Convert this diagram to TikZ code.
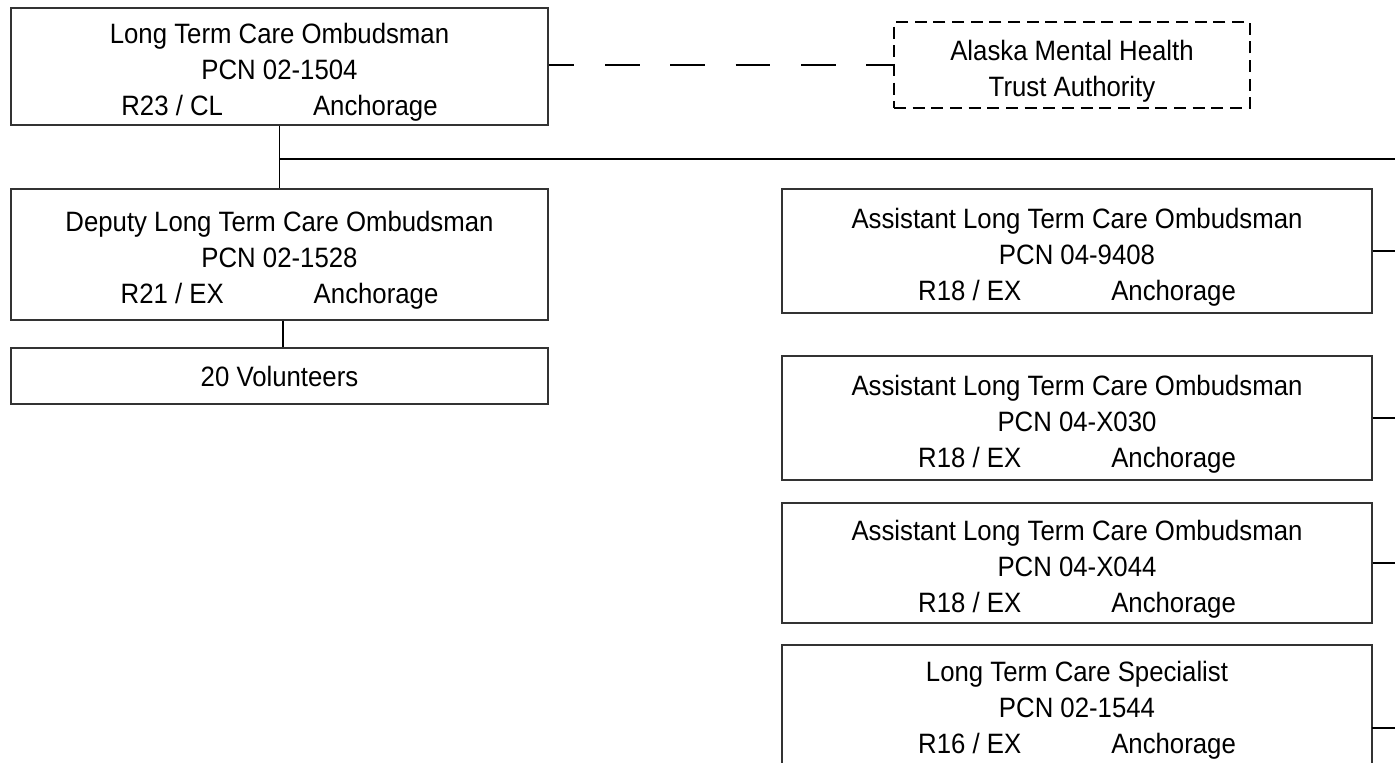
\documentclass[tikz,border=0pt]{standalone}
\usepackage{fontspec}
\setmainfont{Liberation Sans}[FakeStretch=0.92]

\tikzset{
  post/.style={draw=black!80,line width=1pt,inner sep=0pt,align=center,
    font=\fontsize{21}{27}\selectfont},
  link/.style={line width=1.1pt},
}
\newcommand{\grade}[1]{#1\hspace{67.5pt}Anchorage}
\newcommand{\lift}{\rule{0pt}{24.5pt}}

\begin{document}
\begin{tikzpicture}[x=0.75pt,y=-0.75pt]
    \useasboundingbox(0,0)rectangle(1395,763);
    \clip(0,0)rectangle(1395,763);
    % left column
    \node[post,minimum width=402.75pt,minimum height=87.75pt](lto)at(279.5,66.5){\lift Long Term Care Ombudsman\\PCN 02-1504\\\grade{R23 / CL}};
    \node[post,minimum width=402.75pt,minimum height=98.25pt](dep)at(279.5,254.5){\lift Deputy Long Term Care Ombudsman\\PCN 02-1528\\\grade{R21 / EX}};
    \node[post,minimum width=402.75pt,minimum height=42pt](vol)at(279.5,376){20 Volunteers};
    \node[post,dash pattern=on 9pt off 5pt,line width=1.5pt,draw=black,minimum width=267pt,minimum height=64.5pt](amh)at(1072,65){\lift Alaska Mental Health\\Trust Authority};
    % right column
    \node[post,minimum width=442.5pt,minimum height=93pt](a1)at(1077,251){\lift Assistant Long Term Care Ombudsman\\PCN 04-9408\\\grade{R18 / EX}};
    \node[post,minimum width=442.5pt,minimum height=93pt](a2)at(1077,418){\lift Assistant Long Term Care Ombudsman\\PCN 04-X030\\\grade{R18 / EX}};
    \node[post,minimum width=442.5pt,minimum height=90pt](a3)at(1077,563){\lift Assistant Long Term Care Ombudsman\\PCN 04-X044\\\grade{R18 / EX}};
    \node[post,minimum width=442.5pt,minimum height=97.5pt](lts)at(1077,710){Long Term Care Specialist\\PCN 02-1544\\\grade{R16 / EX}};

    \coordinate(bus)at(1405,159);\coordinate(lts-out)at(1372,728);
    \draw[link](lto.south)--(dep.north);
    \draw[link](lto.south|-bus)--(bus);
    \draw[link]([xshift=2.6pt]dep.south)--([xshift=2.6pt]vol.north);
    \draw[link,dash pattern=on 26pt off 23pt,dash phase=6.75pt](lto.east|-amh.west)--(amh.west);
    \foreach\b in{a1,a2,a3}{\draw[link](\b.east)--(bus|-\b.east);};
    \draw[link](lts-out)--(bus|-lts-out);
\end{tikzpicture}
\end{document}
